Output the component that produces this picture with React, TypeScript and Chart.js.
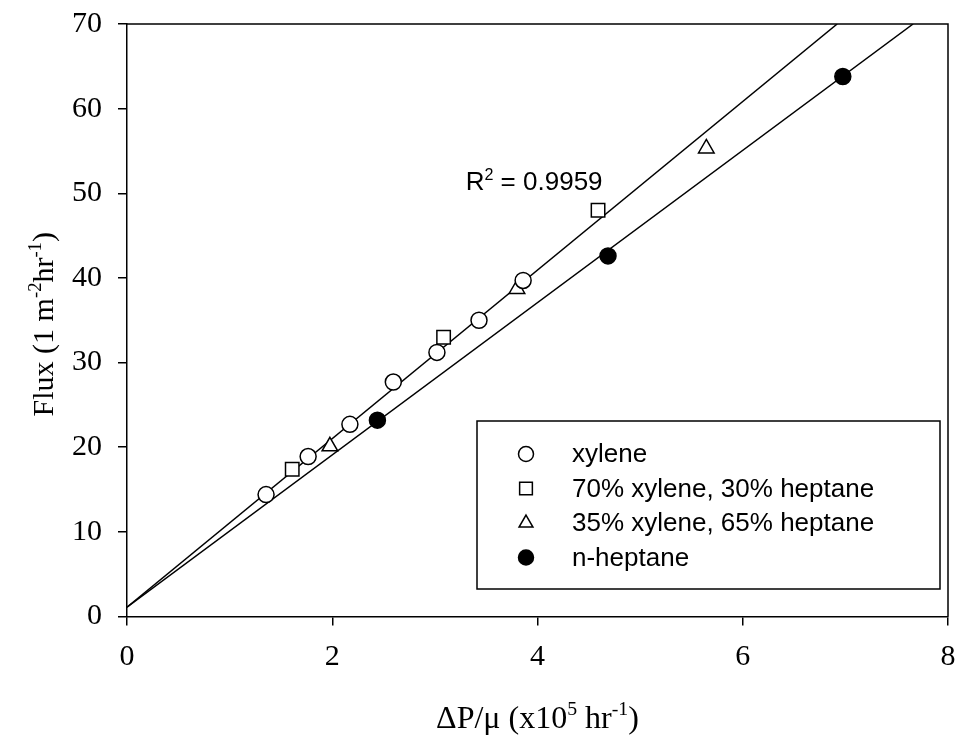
import { useEffect, useRef } from 'react';
import { Chart, registerables } from 'chart.js';

Chart.register(...registerables);

// ---- data ----
const seriesLabels = ['xylene', '70% xylene, 30% heptane', '35% xylene, 65% heptane', 'n-heptane'];

const xyleneX = [1.355, 1.765, 2.172, 2.595, 3.02, 3.43, 3.86];
const xyleneY = [14.4, 18.9, 22.7, 27.7, 31.2, 35.0, 39.7];

const mix70X = [1.61, 3.085, 4.59];
const mix70Y = [17.4, 33.0, 48.0];

const mix35X = [1.977, 3.8, 5.645];
const mix35Y = [20.1, 38.7, 55.3];

const heptaneX = [2.44, 4.687, 6.975];
const heptaneY = [23.2, 42.6, 63.8];

const fitUpperX = [0, 6.92];
const fitUpperY = [1.1, 70];
const fitLowerX = [0, 7.66];
const fitLowerY = [1.1, 70];

const xTicks = [0, 2, 4, 6, 8];
const xTickLabels = ['0', '2', '4', '6', '8'];
const yTicks = [0, 10, 20, 30, 40, 50, 60, 70];
const yTickLabels = ['0', '10', '20', '30', '40', '50', '60', '70'];

const r2Text = [
  { t: 'R', sup: false },
  { t: '2', sup: true },
  { t: ' = 0.9959', sup: false },
];
const xTitle = [
  { t: '\u0394P/\u03bc (x10', sup: false },
  { t: '5', sup: true },
  { t: ' hr', sup: false },
  { t: '-1', sup: true },
  { t: ')', sup: false },
];
const yTitle = [
  { t: 'Flux (1 m', sup: false },
  { t: '-2', sup: true },
  { t: 'hr', sup: false },
  { t: '-1', sup: true },
  { t: ')', sup: false },
];

const zip = (xs: number[], ys: number[]) => xs.map((x, i) => ({ x, y: ys[i] }));

const SERIF = '"Liberation Serif", "Times New Roman", serif';
const SANS = '"Liberation Sans", Arial, sans-serif';

type Part = { t: string; sup: boolean };

function richWidth(ctx: CanvasRenderingContext2D, parts: Part[], size: number, family: string) {
  let w = 0;
  for (const p of parts) {
    ctx.font = `${p.sup ? size * 0.62 : size}px ${family}`;
    w += ctx.measureText(p.t).width;
  }
  return w;
}

function drawRich(ctx: CanvasRenderingContext2D, parts: Part[], x: number, y: number, size: number, family: string, align: 'left' | 'center') {
  const w = richWidth(ctx, parts, size, family);
  let cx = align === 'center' ? x - w / 2 : x;
  ctx.textAlign = 'left';
  ctx.textBaseline = 'alphabetic';
  ctx.fillStyle = '#000';
  for (const p of parts) {
    const s = p.sup ? size * 0.62 : size;
    ctx.font = `${s}px ${family}`;
    ctx.fillText(p.t, cx, p.sup ? y - size * 0.4 : y);
    cx += ctx.measureText(p.t).width;
  }
}

function drawMarker(ctx: CanvasRenderingContext2D, style: string, x: number, y: number, r: number, fill: string) {
  ctx.beginPath();
  if (style === 'circle') {
    ctx.arc(x, y, r, 0, Math.PI * 2);
  } else if (style === 'rect') {
    const s = r * Math.SQRT1_2;
    ctx.rect(x - s, y - s, 2 * s, 2 * s);
  } else if (style === 'triangle') {
    for (let k = 0; k < 3; k++) {
      const a = (k * 2 * Math.PI) / 3;
      const px = x + Math.sin(a) * r;
      const py = y - Math.cos(a) * r;
      if (k === 0) ctx.moveTo(px, py);
      else ctx.lineTo(px, py);
    }
    ctx.closePath();
  }
  ctx.fillStyle = fill;
  ctx.fill();
  ctx.lineWidth = 1.5;
  ctx.strokeStyle = '#000';
  ctx.stroke();
}

const decorPlugin = {
  id: 'decor',
  beforeDatasetsDraw(chart: any) {
    const { ctx, chartArea: a } = chart;
    ctx.save();
    ctx.strokeStyle = '#000';
    ctx.lineWidth = 1.5;
    ctx.beginPath();
    ctx.moveTo(a.left, a.top);
    ctx.lineTo(a.right, a.top);
    ctx.lineTo(a.right, a.bottom);
    ctx.stroke();
    ctx.restore();
  },
  afterDraw(chart: any) {
    const { ctx, chartArea: a, scales } = chart;
    ctx.save();
    // axis titles
    drawRich(ctx, xTitle, (a.left + a.right) / 2, 728, 32, SERIF, 'center');
    ctx.save();
    ctx.translate(53, (a.top + a.bottom) / 2 + 4);
    ctx.rotate(-Math.PI / 2);
    drawRich(ctx, yTitle, 0, 0, 30, SERIF, 'center');
    ctx.restore();

    // R^2 annotation
    drawRich(ctx, r2Text, scales.x.getPixelForValue(3.3), scales.y.getPixelForValue(50.4), 26, SANS, 'left');

    // legend
    const bx = a.left + 350;
    const by = a.top + 397;
    const bw = 463;
    const bh = 168;
    ctx.lineWidth = 1.5;
    ctx.strokeStyle = '#000';
    ctx.fillStyle = '#fff';
    ctx.fillRect(bx, by, bw, bh);
    ctx.strokeRect(bx, by, bw, bh);
    const ds = chart.data.datasets;
    const legendR: Record<string, number> = { circle: 7.5, rect: 9, triangle: 8 };
    for (let i = 0; i < seriesLabels.length; i++) {
      const rowY = by + 33 + i * 34.5;
      const d = ds[i];
      drawMarker(ctx, d.pointStyle, bx + 49, rowY, legendR[d.pointStyle] ?? 7.5, d.pointBackgroundColor);
      ctx.fillStyle = '#000';
      ctx.font = `26px ${SANS}`;
      ctx.textAlign = 'left';
      ctx.textBaseline = 'middle';
      ctx.fillText(seriesLabels[i], bx + 95, rowY + 1);
    }
    ctx.restore();
  },
};

export default function App() {
  const ref = useRef<HTMLCanvasElement | null>(null);

  useEffect(() => {
    if (!ref.current) return;
    const pointBase = { showLine: false, borderColor: '#000', pointBorderColor: '#000', pointBorderWidth: 1.5 };
    const chart = new Chart(ref.current, {
      type: 'scatter',
      data: {
        datasets: [
          { ...pointBase, label: seriesLabels[0], data: zip(xyleneX, xyleneY), pointStyle: 'circle', pointRadius: 8, pointBackgroundColor: '#fff' },
          { ...pointBase, label: seriesLabels[1], data: zip(mix70X, mix70Y), pointStyle: 'rect', pointRadius: 9.5, pointBackgroundColor: '#fff' },
          { ...pointBase, label: seriesLabels[2], data: zip(mix35X, mix35Y), pointStyle: 'triangle', pointRadius: 9, pointBackgroundColor: '#fff' },
          { ...pointBase, label: seriesLabels[3], data: zip(heptaneX, heptaneY), pointStyle: 'circle', pointRadius: 8, pointBackgroundColor: '#000' },
          { label: 'fit1', data: zip(fitUpperX, fitUpperY), showLine: true, borderColor: '#000', borderWidth: 1.5, pointRadius: 0, fill: false },
          { label: 'fit2', data: zip(fitLowerX, fitLowerY), showLine: true, borderColor: '#000', borderWidth: 1.5, pointRadius: 0, fill: false },
        ] as any,
      },
      options: {
        animation: false,
        responsive: false,
        devicePixelRatio: 1,
        layout: { padding: { top: 24, right: 10, left: 0, bottom: 0 } },
        plugins: { legend: { display: false }, tooltip: { enabled: false } },
        elements: { point: { hoverRadius: 0 } },
        scales: {
          x: {
            type: 'linear',
            min: 0,
            max: 8,
            afterBuildTicks: (s: any) => {
              s.ticks = xTicks.map((v) => ({ value: v }));
            },
            afterFit: (s: any) => {
              s.height = 123.5;
              s.paddingLeft = 0;
              s.paddingRight = 0;
              s.paddingTop = 0;
              s.paddingBottom = 0;
            },
            ticks: {
              callback: (v: any) => xTickLabels[xTicks.indexOf(Number(v))] ?? '',
              font: { family: SERIF, size: 30 },
              color: '#000',
              padding: 14,
              maxRotation: 0,
              autoSkip: false,
            },
            grid: { drawOnChartArea: false, drawTicks: true, tickLength: 9, color: '#000', lineWidth: 1.5 },
            border: { display: true, color: '#000', width: 1.5 },
            title: { display: false },
          },
          y: {
            type: 'linear',
            min: 0,
            max: 70,
            afterBuildTicks: (s: any) => {
              s.ticks = yTicks.map((v) => ({ value: v }));
            },
            afterFit: (s: any) => {
              s.width = 127;
              s.paddingLeft = 0;
              s.paddingRight = 0;
              s.paddingTop = 0;
              s.paddingBottom = 0;
            },
            ticks: {
              callback: (v: any) => yTickLabels[yTicks.indexOf(Number(v))] ?? '',
              font: { family: SERIF, size: 30 },
              color: '#000',
              padding: 16,
              autoSkip: false,
            },
            grid: { drawOnChartArea: false, drawTicks: true, tickLength: 9, color: '#000', lineWidth: 1.5 },
            border: { display: true, color: '#000', width: 1.5 },
            title: { display: false },
          },
        },
      },
      plugins: [decorPlugin],
    });
    return () => chart.destroy();
  }, []);

  return (
    <div style={{ position: 'absolute', left: 0, top: 0, width: 959, height: 740, background: '#fff' }}>
      <canvas ref={ref} width={959} height={740} style={{ display: 'block' }} />
    </div>
  );
}
